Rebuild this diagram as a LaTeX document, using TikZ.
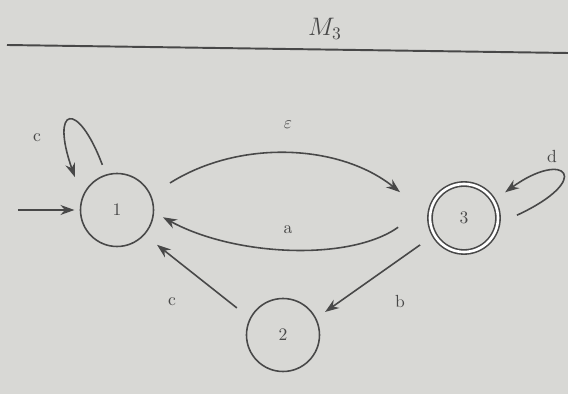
\documentclass[tikz,border=0pt]{standalone}
\usetikzlibrary{arrows.meta,calc}
\definecolor{paper}{RGB}{216,216,213}
\definecolor{ink}{RGB}{72,72,72}

\begin{document}
\begin{tikzpicture}[line width=0.9pt,>={Stealth[length=2.8mm,width=2mm]},draw=ink,text=ink,
  state/.style={circle,draw=ink,line width=0.9pt,minimum size=1.46cm,inner sep=0pt},
  accept/.style={state,double,double distance=1.5pt,minimum size=1.36cm}]
% background and frame
\fill[paper] (0,0) rectangle (11.36,7.88);
\useasboundingbox (0,0) rectangle (11.36,7.88);
% title rule
\coordinate (ruleL) at (0.14,6.98);
\coordinate (ruleR) at (11.36,6.82);
\draw[line width=1.1pt] (ruleL) -- (ruleR);
\node (title) at (6.5,7.3) {\Large $M_3$};
% states
\node[state] (s1) at (2.34,3.68) {1};
\node[state] (s2) at (5.66,1.18) {2};
\node[accept] (s3) at (9.28,3.52) {3};
% start arrow
\coordinate (init) at (0.36,3.68);
\draw[->,shorten >=3pt] (init) -- (s1.west);
% loop on 1
\draw[->] ($(s1)+(108:0.95)$) .. controls (1.55,5.9) and (1.0,5.75) .. ($(s1)+(142:1.07)$);
\node (lc1) at (0.74,5.12) {c};
% 1 -> 3 (epsilon)
\draw[->] ($(s1)+(27:1.19)$) .. controls (4.8,5.1) and (6.8,5.0) .. ($(s3)+(158:1.38)$);
\node (leps) at (5.76,5.38) {$\varepsilon$};
% 3 -> 1 (a)
\draw[->] ($(s3)+(188:1.33)$) .. controls (7.0,2.65) and (4.7,2.75) .. ($(s1)+(-9:0.93)$);
\node (la) at (5.76,3.28) {a};
% 3 -> 2 (b)
\draw[->] ($(s3)+(211.5:1.03)$) -- ($(s2)+(28.7:0.96)$);
\node (lb) at (8.0,1.84) {b};
% 2 -> 1 (c)
\draw[->] ($(s2)+(149.6:1.07)$) -- ($(s1)+(-41:1.06)$);
\node (lc2) at (3.44,1.84) {c};
% loop on 3
\draw[->] ($(s3)+(3:1.06)$) .. controls (11.9,4.3) and (11.3,4.9) .. ($(s3)+(32:0.97)$);
\node (ld) at (11.04,4.74) {d};
\end{tikzpicture}
\end{document}
